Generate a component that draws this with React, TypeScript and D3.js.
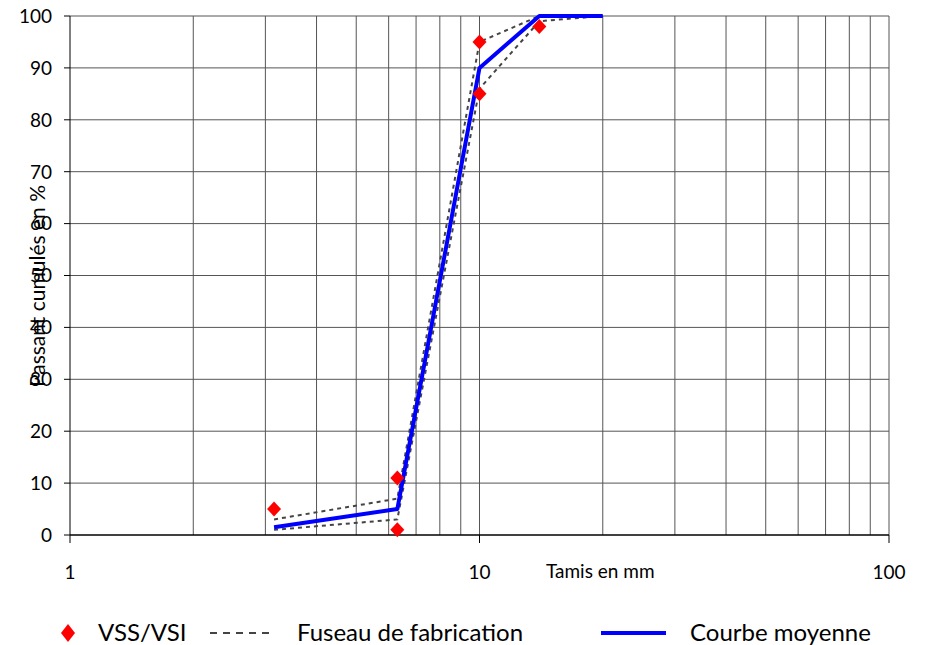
import * as d3 from 'd3'

// sieve sizes (mm)
const sieves = [3.15, 6.3, 10, 14, 20]
// mean curve (% passing)
const meanCurve = [1.5, 5, 90, 100, 100]
// manufacturing envelope (upper / lower)
const fuseauUpper = [3, 7, 95, 100, 100]
const fuseauLower = [1, 3, 86, 99, 100]
// VSS/VSI points
const vssSieves = [3.15, 6.3, 6.3, 10, 10, 14]
const vssValues = [5, 11, 1, 95, 85, 98]

const yTicks = [0, 10, 20, 30, 40, 50, 60, 70, 80, 90, 100]
const xLabels = [1, 10, 100]

const W = 926
const H = 645
const FONT = 'Lato, "Open Sans", sans-serif'

function Diamond({ cx, cy, rx, ry }: { cx: number; cy: number; rx: number; ry: number }) {
  return (
    <path
      d={`M${cx},${cy - ry}L${cx + rx},${cy}L${cx},${cy + ry}L${cx - rx},${cy}Z`}
      fill="#ff0000"
    />
  )
}

export default function App() {
  const x = d3.scaleLog().domain([1, 100]).range([70, 889])
  const y = d3.scaleLinear().domain([0, 100]).range([535, 16])

  const line = d3
    .line<number>()
    .x((_, i) => x(sieves[i]))
    .y((d) => y(d))

  const minor = x.ticks().filter((t) => t !== 1)

  return (
    <svg
      width={W}
      height={H}
      style={{ position: 'absolute', left: 0, top: 0, background: '#fff' }}
      fontFamily={FONT}
    >
      {/* grid */}
      {yTicks.slice(1).map((t) => (
        <line key={'h' + t} x1={x(1)} x2={x(100)} y1={y(t)} y2={y(t)} stroke="#555" strokeWidth={1} />
      ))}
      {minor.map((t) => (
        <line key={'v' + t} x1={x(t)} x2={x(t)} y1={y(0)} y2={y(100)} stroke="#555" strokeWidth={1} />
      ))}

      {/* axes */}
      <line x1={x(1)} x2={x(1)} y1={y(0)} y2={y(100)} stroke="#000" />
      <line x1={x(1)} x2={x(100)} y1={y(0)} y2={y(0)} stroke="#000" strokeWidth={1.5} />
      {yTicks.map((t) => (
        <g key={'yt' + t}>
          <line x1={x(1) - 6} x2={x(1)} y1={y(t)} y2={y(t)} stroke="#000" />
          <text x={52} y={y(t)} dy="0.36em" textAnchor="end" fontSize={19}>
            {t}
          </text>
        </g>
      ))}
      {xLabels.map((t) => (
        <g key={'xt' + t}>
          <line x1={x(t)} x2={x(t)} y1={y(0)} y2={y(0) + 8} stroke="#000" />
          <text x={x(t)} y={579} textAnchor="middle" fontSize={19}>
            {t}
          </text>
        </g>
      ))}
      <text x={546} y={578} fontSize={19}>
        Tamis en mm
      </text>
      <text
        transform={`translate(45,286) rotate(-90)`}
        textAnchor="middle"
        fontSize={21}
      >
        Passant cumulés en %
      </text>

      {/* envelope */}
      <path d={line(fuseauUpper) ?? ''} fill="none" stroke="#444" strokeWidth={2} strokeDasharray="4,4" />
      <path d={line(fuseauLower) ?? ''} fill="none" stroke="#444" strokeWidth={2} strokeDasharray="4,4" />

      {/* mean curve */}
      <path d={line(meanCurve) ?? ''} fill="none" stroke="#0000ff" strokeWidth={4} strokeLinejoin="round" />

      {/* VSS/VSI */}
      {vssValues.map((v, i) => (
        <Diamond key={'d' + i} cx={x(vssSieves[i])} cy={y(v)} rx={7} ry={7.5} />
      ))}

      {/* legend */}
      <g fontSize={24}>
        <Diamond cx={68} cy={633} rx={7} ry={9} />
        <text x={98} y={633} dy="0.35em">VSS/VSI</text>
        <line x1={210} x2={274} y1={633} y2={633} stroke="#444" strokeWidth={2} strokeDasharray="7,6" />
        <text x={297} y={633} dy="0.35em">Fuseau de fabrication</text>
        <line x1={601} x2={666} y1={633} y2={633} stroke="#0000ff" strokeWidth={4} />
        <text x={690} y={633} dy="0.35em">Courbe moyenne</text>
      </g>
    </svg>
  )
}
